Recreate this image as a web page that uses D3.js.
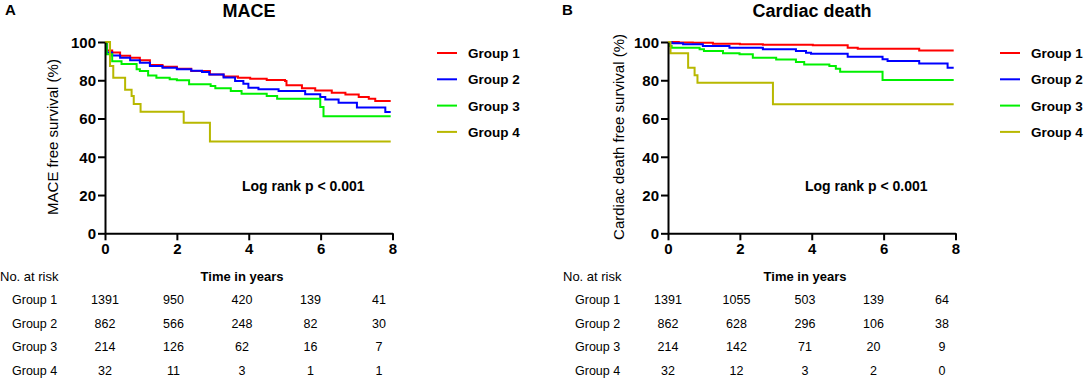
<!doctype html>
<html>
<head>
<meta charset="utf-8">
<script src="https://d3js.org/d3.v7.min.js"></script>
<style>
  body { margin: 0; background: #fff; }
  text { font-family: "Liberation Sans", Arial, sans-serif; fill: #000; }
</style>
</head>
<body>
<script>
// Kaplan-Meier curves: [time in years, survival %]
var maceG1 = [[0,100],[0.06,95.5],[0.2,94.5],[0.42,92.8],[0.7,91.8],[0.97,90.5],[1.25,88],[1.6,87],[2.0,86],[2.4,84.8],[2.92,83],[3.3,82],[3.7,81.3],[4.04,80.8],[4.5,80.2],[5.01,79.6],[5.05,77.4],[5.48,75.8],[5.85,74.7],[6.31,73.5],[6.69,72.6],[7.06,71.2],[7.34,70.4],[7.52,69.2],[7.95,69.2]];
var maceG2 = [[0,100],[0.05,94.5],[0.2,93],[0.42,91.8],[0.7,90.5],[0.97,89.2],[1.25,87.4],[1.6,86.5],[2.0,85.7],[2.4,85],[2.7,84.3],[2.9,83],[3.3,81.5],[3.62,79.6],[3.85,78.2],[3.99,76.1],[4.27,75.3],[4.83,74.4],[5.57,72.7],[5.99,71.2],[6.13,70],[6.5,68.3],[7.01,65.7],[7.8,63.4],[7.95,63.4]];
var maceG3 = [[0,100],[0.05,93.6],[0.2,90],[0.46,88.5],[0.88,85.7],[0.97,84.8],[1.2,82.5],[1.43,81.3],[1.8,80.5],[2.0,80],[2.34,77.9],[2.94,77],[3.07,75.8],[3.5,74.4],[3.8,73],[4.5,71.8],[4.79,70.4],[5.99,66],[6.08,61.2],[7.95,61.2]];
var maceG4 = [[0,100],[0.14,87.5],[0.23,81.3],[0.56,75],[0.74,71.8],[0.8,67.6],[0.99,63.5],[2.19,57.8],[2.92,48],[7.95,48]];

var cardG1 = [[0,100],[0.3,99.8],[0.69,99.6],[1.25,99.1],[2.0,98.8],[2.64,98.6],[4.03,98.3],[5.0,97],[5.28,96.5],[6.99,95.6],[7.95,95.6]];
var cardG2 = [[0,100],[0.1,99.3],[0.42,98.8],[0.97,97.9],[1.71,97],[2.64,96.2],[3.56,95.3],[3.84,94.4],[3.98,93.9],[5.0,92.3],[5.97,91],[6.11,90.1],[6.99,88.7],[7.78,86.6],[7.95,86.6]];
var cardG3 = [[0,100],[0.03,97.9],[0.1,97],[0.88,96.2],[1.0,95.3],[1.53,94.1],[1.99,93.6],[2.36,91.8],[3.01,90.9],[3.56,89.5],[3.79,88.3],[4.49,87.5],[4.67,86],[4.79,84.5],[5.97,80.1],[7.95,80.1]];
var cardG4 = [[0,100],[0.07,94.1],[0.56,86.6],[0.74,82.6],[0.82,78.7],[2.92,67.4],[7.95,67.4]];

var groups = ["Group 1", "Group 2", "Group 3", "Group 4"];
var colors = ["#ff0000", "#0000ff", "#00f000", "#b8b800"];
var timeTicks = [0, 2, 4, 6, 8];
var survTicks = [0, 20, 40, 60, 80, 100];

var atRiskMace = [[1391, 950, 420, 139, 41], [862, 566, 248, 82, 30], [214, 126, 62, 16, 7], [32, 11, 3, 1, 1]];
var atRiskCard = [[1391, 1055, 503, 139, 64], [862, 628, 296, 106, 38], [214, 142, 71, 20, 9], [32, 12, 3, 2, 0]];

var svg = d3.select("body").append("svg")
    .attr("width", 1084)
    .attr("height", 378);

function drawPanel(p) {
    var g = svg.append("g").attr("transform", "translate(" + p.left + ",0)");

    var x = d3.scaleLinear().domain([0, 8]).range([0, 287.5]);
    var y = d3.scaleLinear().domain([0, 100]).range([233.3, 42]);
    // the numbers-at-risk table sits on a slightly narrower grid
    var xt = d3.scaleLinear().domain([0, 8]).range([0, 274]);

    // panel letter and title
    g.append("text").attr("x", p.letterX).attr("y", 15)
        .attr("font-size", 15).attr("font-weight", "bold").text(p.letter);
    g.append("text").attr("x", 144).attr("y", 17).attr("text-anchor", "middle")
        .attr("font-size", 18).attr("font-weight", "bold").text(p.title);

    // curves
    var line = d3.line()
        .x(function(d) { return x(d[0]); })
        .y(function(d) { return y(d[1]); })
        .curve(d3.curveStepAfter);
    p.series.forEach(function(s, i) {
        g.append("path").datum(s)
            .attr("fill", "none")
            .attr("stroke", colors[i])
            .attr("stroke-width", 2)
            .attr("d", line);
    });

    // axes
    var yAxis = g.append("g").call(d3.axisLeft(y).tickValues(survTicks).tickSize(7).tickSizeOuter(0));
    var xAxis = g.append("g").attr("transform", "translate(0,233.3)")
        .call(d3.axisBottom(x).tickValues(timeTicks).tickSize(7).tickSizeOuter(0));
    [xAxis, yAxis].forEach(function(a) {
        a.select(".domain").attr("stroke", "#000").attr("stroke-width", 2);
        a.selectAll(".tick line").attr("stroke", "#000").attr("stroke-width", 2);
        a.selectAll(".tick text")
            .attr("font-family", "Liberation Sans, Arial, sans-serif")
            .attr("font-size", 15).attr("font-weight", "bold").attr("fill", "#000");
    });
    yAxis.selectAll(".tick text").attr("x", -9).attr("dy", "0.36em");
    xAxis.selectAll(".tick text").attr("y", 10).attr("dy", "0.71em");

    // y label
    g.append("text")
        .attr("transform", "translate(" + p.ylabX + "," + 137 + ") rotate(-90)")
        .attr("text-anchor", "middle").attr("font-size", 15)
        .text(p.ylab);

    // legend
    var leg = g.selectAll(".legend").data(groups).enter().append("g")
        .attr("transform", function(d, i) { return "translate(332," + (53 + i * 26.3) + ")"; });
    leg.append("line").attr("x1", 0).attr("x2", 20)
        .attr("stroke", function(d, i) { return colors[i]; }).attr("stroke-width", 2);
    leg.append("text").attr("x", 31).attr("y", 5)
        .attr("font-size", 13.5).attr("font-weight", "bold")
        .text(function(d) { return d; });

    g.append("text").attr("x", 137).attr("y", 191)
        .attr("font-size", 14).attr("font-weight", "bold").text("Log rank p < 0.001");

    // numbers at risk
    g.append("text").attr("x", xt(4)).attr("y", 281).attr("text-anchor", "middle")
        .attr("font-size", 13).attr("font-weight", "bold").text("Time in years");
    g.append("text").attr("x", -105).attr("y", 281)
        .attr("font-size", 13).text("No. at risk");

    p.risk.forEach(function(row, i) {
        var by = 304 + i * 23.5;
        g.append("text").attr("x", -93).attr("y", by).attr("font-size", 12.5).text(groups[i]);
        row.forEach(function(v, j) {
            g.append("text").attr("x", xt(timeTicks[j])).attr("y", by)
                .attr("text-anchor", "middle").attr("font-size", 12.5).text(v);
        });
    });
}

drawPanel({left: 105, letter: "A", letterX: -100, title: "MACE", ylab: "MACE free survival (%)",
    ylabX: -47, series: [maceG1, maceG2, maceG3, maceG4], risk: atRiskMace});
drawPanel({left: 668, letter: "B", letterX: -106, title: "Cardiac death", ylab: "Cardiac death free survival (%)",
    ylabX: -44, series: [cardG1, cardG2, cardG3, cardG4], risk: atRiskCard});
</script>
</body>
</html>
